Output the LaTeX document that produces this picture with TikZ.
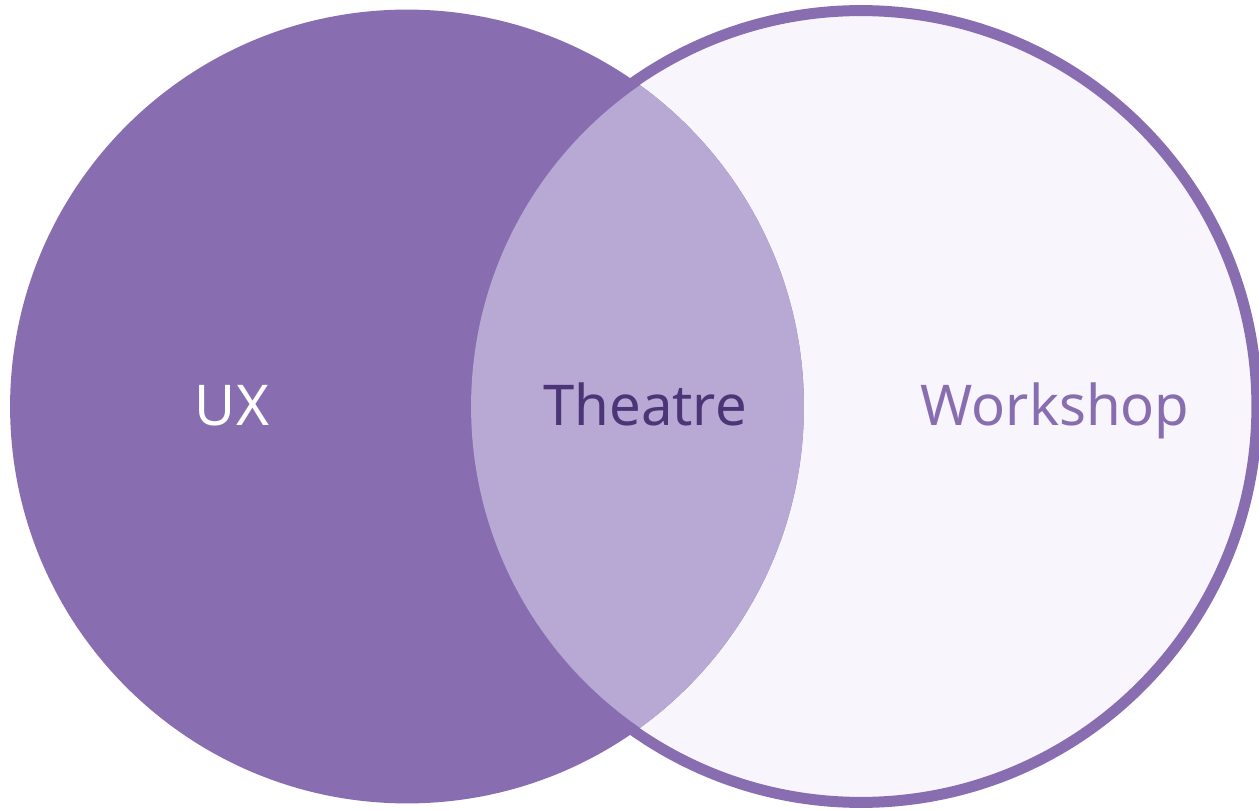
\documentclass[tikz,border=0pt]{standalone}
\usepackage{fontspec}
\setmainfont{Noto Sans}
\usepackage{tikz}
\definecolor{uxpurple}{HTML}{886EB0}
\definecolor{mixpurple}{HTML}{B8A8D4}
\definecolor{paleviolet}{HTML}{F8F6FC}
\definecolor{darkviolet}{HTML}{4B3577}
\tikzset{
	label/.style={font=\fontsize{32}{38}\selectfont,anchor=base},
}

\begin{document}
\begin{tikzpicture}[x=0.02cm,y=-0.02cm]
	\useasboundingbox (0,0) rectangle (1259,811);
\coordinate (ux) at (407,406.5);
\coordinate (ws) at (861,406.5);
	\draw[uxpurple,fill=paleviolet,line width=0.22cm] (ws) circle[radius=7.92cm];
	\fill[uxpurple] (ux) circle[radius=7.94cm];
	\begin{scope}
	\clip (ws) circle[radius=7.80cm];
	\fill[mixpurple] (ux) circle[radius=7.94cm];
	\end{scope}
	\node[label,white] (uxtext) at (232,425) {UX};
	\node[label,darkviolet] (theatre) at (645,425) {Theatre};
	\node[label,uxpurple] (workshop) at (1055,425) {Workshop};
\end{tikzpicture}
\end{document}
